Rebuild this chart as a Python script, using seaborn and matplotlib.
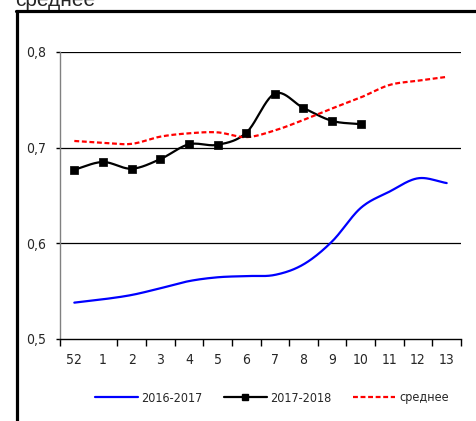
import numpy as np
import pandas as pd
import matplotlib
matplotlib.use("Agg")
import matplotlib.pyplot as plt
from matplotlib.lines import Line2D
import seaborn as sns

weeks = ["52", "1", "2", "3", "4", "5", "6", "7", "8", "9", "10", "11", "12", "13"]
season_2016 = [0.538, 0.5415, 0.546, 0.553, 0.5605, 0.5645, 0.5658, 0.567,
               0.578, 0.602, 0.637, 0.654, 0.668, 0.663]
season_2017 = [0.677, 0.685, 0.678, 0.688, 0.7035, 0.703, 0.7155, 0.7565,
               0.7415, 0.728, 0.7245]
average = [0.707, 0.705, 0.704, 0.7115, 0.715, 0.716, 0.711, 0.718,
           0.729, 0.741, 0.7525, 0.7655, 0.770, 0.774]


def smooth(values, n=24):
    # catmull-rom curve through the points, like excel's smoothed line
    y = np.asarray(values, dtype=float)
    x = np.arange(len(y), dtype=float)
    px = np.concatenate([[2 * x[0] - x[1]], x, [2 * x[-1] - x[-2]]])
    py = np.concatenate([[2 * y[0] - y[1]], y, [2 * y[-1] - y[-2]]])
    xs, ys = [], []
    t = np.linspace(0, 1, n, endpoint=False)
    for i in range(1, len(px) - 2):
        for arr, out in ((px, xs), (py, ys)):
            p0, p1, p2, p3 = arr[i - 1], arr[i], arr[i + 1], arr[i + 2]
            out.extend(0.5 * (2 * p1 + (-p0 + p2) * t
                              + (2 * p0 - 5 * p1 + 4 * p2 - p3) * t ** 2
                              + (-p0 + 3 * p1 - 3 * p2 + p3) * t ** 3))
    xs.append(x[-1])
    ys.append(y[-1])
    return pd.DataFrame({"x": xs, "y": ys})


def main():
    sns.set_style("white")
    plt.rcParams["font.family"] = ["DejaVu Sans"]
    plt.rcParams["font.stretch"] = "condensed"

    fig = plt.figure(figsize=(4.76, 4.21), dpi=100)
    ax = fig.add_axes([60 / 476, 82 / 421, 401 / 476, 287 / 421])

    sns.lineplot(data=smooth(season_2016), x="x", y="y", ax=ax,
                 color="#0000ff", linewidth=1.6, sort=False)
    sns.lineplot(data=smooth(season_2017), x="x", y="y", ax=ax,
                 color="black", linewidth=1.6, sort=False)
    pts = pd.DataFrame({"x": np.arange(len(season_2017)), "y": season_2017})
    sns.scatterplot(data=pts, x="x", y="y", ax=ax, marker="s", s=40,
                    color="black", edgecolor="black", zorder=5)
    sns.lineplot(data=smooth(average), x="x", y="y", ax=ax,
                 color="#ff0000", linewidth=1.6, sort=False,
                 linestyle=(0, (2.2, 1.2)))

    ax.set_xlim(-0.5, len(weeks) - 0.5)
    ax.set_ylim(0.5, 0.8)
    ax.set_xlabel("")
    ax.set_ylabel("")

    for yv in [0.6, 0.7, 0.8]:
        ax.axhline(yv, color="black", linewidth=0.9, zorder=0)

    bounds = [b - 0.5 for b in range(len(weeks) + 1) if b != 1]
    ax.set_xticks(bounds)
    ax.set_xticklabels([])
    ax.set_xticks(range(len(weeks)), minor=True)
    ax.set_xticklabels(weeks, minor=True)
    ax.tick_params(axis="x", which="major", direction="out", length=5,
                   width=1, color="black", bottom=True)
    ax.tick_params(axis="x", which="minor", length=0, pad=10, labelsize=10)

    ax.set_yticks([0.5, 0.6, 0.7, 0.8])
    ax.set_yticklabels(["0,5", "0,6", "0,7", "0,8"])
    ax.tick_params(axis="y", direction="out", length=3, width=1,
                   color="black", left=True, pad=7, labelsize=10)

    for side in ["top", "right"]:
        ax.spines[side].set_visible(False)
    ax.spines["left"].set_color("#808080")
    ax.spines["left"].set_linewidth(1)
    ax.spines["bottom"].set_color("black")
    ax.spines["bottom"].set_linewidth(1)

    handles = [
        Line2D([], [], color="#0000ff", linewidth=1.6),
        Line2D([], [], color="black", linewidth=1.6, marker="s", markersize=5),
        Line2D([], [], color="#ff0000", linewidth=1.6, linestyle=(0, (2.2, 1.2))),
    ]
    fig.legend(handles, ["2016-2017", "2017-2018", "среднее"], ncol=3,
               loc="center", bbox_to_anchor=(272 / 476, 23 / 421),
               frameon=False, fontsize=9, handlelength=3.4,
               handletextpad=0.3, columnspacing=1.7)

    # border of the chart area and the cut-off title above it
    fig.add_artist(Line2D([16.5 / 476, 16.5 / 476], [0, 1 - 10.5 / 421],
                          color="black", linewidth=2.3,
                          transform=fig.transFigure))
    fig.add_artist(Line2D([15.5 / 476, 1], [1 - 10.5 / 421, 1 - 10.5 / 421],
                          color="black", linewidth=2.3,
                          transform=fig.transFigure))
    fig.text(15 / 476, 1 - 6 / 421, "среднее", fontsize=15,
             family=["Liberation Sans", "DejaVu Sans"], fontstretch="normal",
             va="baseline")

    fig.savefig("out.png", dpi=100)
    plt.close(fig)


if __name__ == "__main__":
    main()
